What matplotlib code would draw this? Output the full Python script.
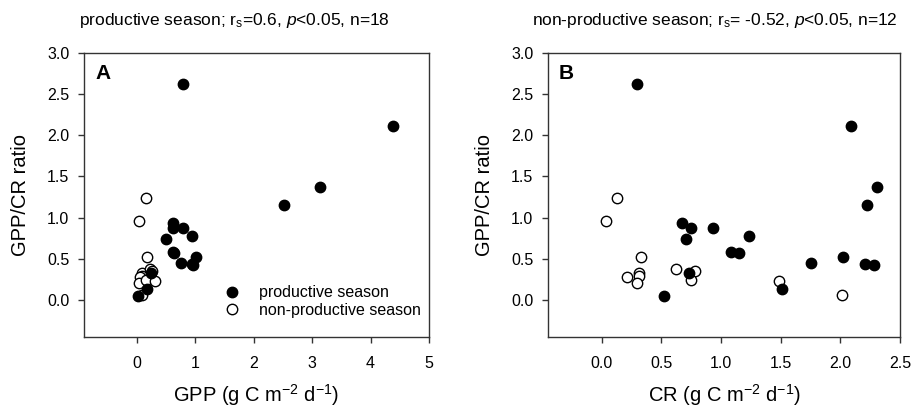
import matplotlib
matplotlib.use("Agg")
import matplotlib.pyplot as plt
from matplotlib.lines import Line2D

plt.rcParams['font.family'] = ['Liberation Sans', 'DejaVu Sans']
plt.rcParams['mathtext.fontset'] = 'custom'
plt.rcParams['mathtext.rm'] = 'Liberation Sans'
plt.rcParams['mathtext.it'] = 'Liberation Sans:italic'
plt.rcParams['mathtext.bf'] = 'Liberation Sans:bold'

# Productive season (n=18)
prod_gpp = [0.79, 4.39, 3.13, 2.52, 0.62, 0.63, 0.51, 0.80, 0.94, 0.62, 0.64,
            0.24, 0.03, 0.18, 0.76, 1.02, 0.94, 0.96]
prod_cr = [0.30, 2.087, 2.307, 2.226, 0.676, 0.749, 0.704, 0.936, 1.237, 1.081,
           1.151, 0.729, 0.525, 1.508, 1.757, 2.022, 2.207, 2.282]
prod_ratio = [2.62, 2.11, 1.37, 1.15, 0.934, 0.873, 0.74, 0.87, 0.776, 0.582,
              0.566, 0.33, 0.049, 0.137, 0.453, 0.518, 0.433, 0.425]

# Non-productive season (n=12)
nonp_gpp = [0.046, 0.154, 0.17, 0.10, 0.09, 0.06, 0.046, 0.23, 0.26, 0.165,
            0.32, 0.086]
nonp_cr = [0.036, 0.126, 0.327, 0.316, 0.316, 0.212, 0.293, 0.623, 0.779,
           0.746, 1.483, 2.011]
nonp_ratio = [0.962, 1.241, 0.526, 0.323, 0.291, 0.283, 0.21, 0.38, 0.356,
              0.239, 0.235, 0.061]

ylabel = "GPP/CR ratio"
xlabel_a = r"GPP (g C m$^{-2}$ d$^{-1}$)"
xlabel_b = r"CR (g C m$^{-2}$ d$^{-1}$)"
title_a = r"productive season; r$_{\mathrm{s}}$=0.6, $\mathit{p}$<0.05, n=18"
title_b = r"non-productive season; r$_{\mathrm{s}}$= -0.52, $\mathit{p}$<0.05, n=12"
yticks = [0.0, 0.5, 1.0, 1.5, 2.0, 2.5, 3.0]
xticks_a = [0, 1, 2, 3, 4, 5]
xticks_b = [0.0, 0.5, 1.0, 1.5, 2.0, 2.5]

W, H = 914, 411
fig = plt.figure(figsize=(W / 100, H / 100), dpi=100)

def box(l, r, t, b):
    return [l / W, 1 - b / H, (r - l) / W, (b - t) / H]

axA = fig.add_axes(box(84, 429, 53, 337))
axB = fig.add_axes(box(548, 900, 53, 337))

ms = 56
for ax, px, nx, xt, xl, letter in [
    (axA, prod_gpp, nonp_gpp, xticks_a, (-0.9, 5.0), "A"),
    (axB, prod_cr, nonp_cr, xticks_b, (-0.45, 2.5), "B"),
]:
    ax.scatter(nx, nonp_ratio, s=ms, facecolor='white', edgecolor='black',
               linewidth=1.0, zorder=3)
    ax.scatter(px, prod_ratio, s=ms, facecolor='black', edgecolor='black',
               linewidth=1.0, zorder=4)
    ax.set_xlim(*xl)
    ax.set_ylim(-0.45, 3.0)
    ax.set_xticks(xt)
    ax.set_yticks(yticks)
    if ax is axA:
        ax.set_xticklabels([str(v) for v in xt])
    else:
        ax.set_xticklabels([f"{v:.1f}" for v in xt])
    ax.set_yticklabels([f"{v:.1f}" for v in yticks])
    ax.tick_params(direction='out', length=4.5, width=1, labelsize=11.5,
                   color='#333333', labelcolor='black')
    ax.tick_params(axis='x', pad=9.5)
    ax.tick_params(axis='y', pad=6)
    for s in ax.spines.values():
        s.set_linewidth(1.0)
        s.set_color('#333333')
    ax.text(11 / (345 if ax is axA else 352), 1 - 11 / 284, letter,
            transform=ax.transAxes, fontsize=15, fontweight='bold',
            va='top', ha='left')

axA.set_xlabel(xlabel_a, fontsize=14.5, labelpad=8)
axB.set_xlabel(xlabel_b, fontsize=14.5, labelpad=8)
axA.set_ylabel(ylabel, fontsize=14.5, labelpad=12)
axB.set_ylabel(ylabel, fontsize=14.5, labelpad=12)

handles = [
    Line2D([], [], marker='o', linestyle='none', markerfacecolor='black',
           markeredgecolor='black', markersize=7.5, label='productive season'),
    Line2D([], [], marker='o', linestyle='none', markerfacecolor='white',
           markeredgecolor='black', markersize=7.5,
           label='non-productive season'),
]
axA.legend(handles=handles, loc='upper left',
           bbox_to_anchor=(215.7 / W, 1 - 285.5 / H),
           bbox_transform=fig.transFigure, borderpad=0, borderaxespad=0,
           frameon=False, fontsize=11.5, handlelength=2.0, handletextpad=0.7,
           labelspacing=0.15)

fig.text(234 / W, 1 - 20 / H, title_a, ha='center', va='center', fontsize=12.5)
fig.text(715 / W, 1 - 20 / H, title_b, ha='center', va='center', fontsize=12.5)

fig.savefig("out.png", dpi=100)
